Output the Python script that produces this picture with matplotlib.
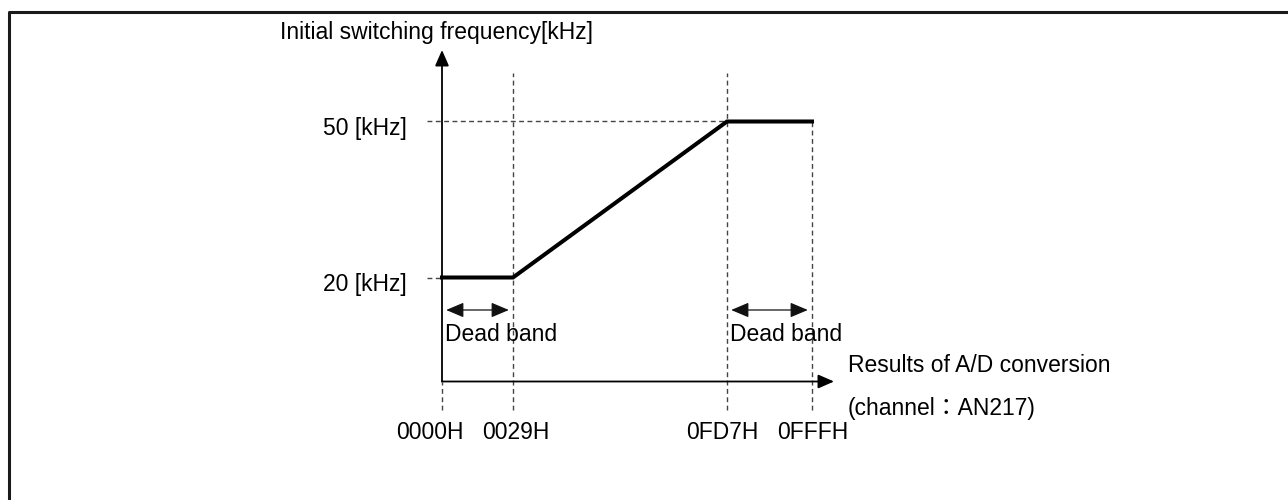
import numpy as np
import matplotlib
matplotlib.use('Agg')
import matplotlib.pyplot as plt
from matplotlib.lines import Line2D

plt.rcParams['font.family'] = ['Liberation Sans', 'Noto Sans CJK JP', 'DejaVu Sans']

# data of the diagram
AD_TICKS = [0x0000, 0x0029, 0x0FD7, 0x0FFF]          # A/D conversion result break points
AD_LABELS = ["0000H", "0029H", "0FD7H", "0FFFH"]
FREQ_KHZ = [20, 20, 50, 50]                            # initial switching frequency [kHz]
FREQ_LEVELS = [50, 20]
FREQ_LABELS = ["50 [kHz]", "20 [kHz]"]
DEAD_BANDS = [(0x0000, 0x0029), (0x0FD7, 0x0FFF)]

Y_TITLE = "Initial switching frequency[kHz]"
X_TITLE = "Results of A/D conversion"
X_SUB = "(channel\uff1aAN217)"

# layout (schematic, not to scale)
W, H = 1288, 500
X_PIX = [442, 513, 727, 812]      # where the break points sit in the picture
Y0_PIX = 381.5                    # pixel row of 0 kHz
PX_PER_KHZ = (277 - 121) / 30.0


def ext_interp(v, xp, fp):
    v = np.asarray(v, dtype=float)
    lo = (fp[1] - fp[0]) / (xp[1] - xp[0])
    hi = (fp[-1] - fp[-2]) / (xp[-1] - xp[-2])
    return np.where(v < xp[0], fp[0] + (v - xp[0]) * lo,
                    np.where(v > xp[-1], fp[-1] + (v - xp[-1]) * hi,
                             np.interp(v, xp, fp)))


def fwd(c):
    return ext_interp(c, AD_TICKS, X_PIX)


def inv(p):
    return ext_interp(p, X_PIX, AD_TICKS)


def khz(py):  # pixel row -> kHz
    return (Y0_PIX - py) / PX_PER_KHZ


def main():
    fig = plt.figure(figsize=(W / 100, H / 100), dpi=100)
    ax = fig.add_axes([0, 0, 1, 1])
    ax.set_xscale('function', functions=(fwd, inv))
    ax.set_xlim(float(inv(0)), float(inv(W)))
    ax.set_ylim(khz(H), khz(0))
    ax.axis('off')

    # frame around the figure (cut at right and bottom)
    fig.add_artist(Line2D([8.5 / W, 8.5 / W, 1], [0, 1 - 11.5 / H, 1 - 11.5 / H],
                          transform=fig.transFigure, color='#1a1a1a', lw=2.2))

    dash = dict(color='#444444', lw=1.0, linestyle=(0, (3.5, 2.5)))
    low = khz(410)
    top = khz(73)
    ax.plot([AD_TICKS[0]] * 2, [low, 0], **dash)
    ax.plot([AD_TICKS[1]] * 2, [low, top], **dash)
    ax.plot([AD_TICKS[2]] * 2, [low, top], **dash)
    ax.plot([AD_TICKS[3]] * 2, [low, FREQ_KHZ[-1]], **dash)
    left = float(inv(427))
    ax.plot([left, AD_TICKS[2]], [FREQ_LEVELS[0]] * 2, **dash)
    ax.plot([left, AD_TICKS[0]], [FREQ_LEVELS[1]] * 2, **dash)

    # axes with arrows
    head = 'simple,head_length=0.8,head_width=0.55,tail_width=0.001'
    ax.annotate('', xy=(0, khz(50)), xytext=(0, 0),
                arrowprops=dict(arrowstyle='-|>,head_length=0.8,head_width=0.35',
                                mutation_scale=12, lw=1.3, color='black',
                                shrinkA=0, shrinkB=0))
    ax.annotate('', xy=(float(inv(834)), 0), xytext=(0, 0),
                arrowprops=dict(arrowstyle='-|>,head_length=0.8,head_width=0.35',
                                mutation_scale=12, lw=1.3, color='black',
                                shrinkA=0, shrinkB=0))

    # frequency characteristic
    ax.plot(AD_TICKS, FREQ_KHZ, color='black', lw=2.9, solid_joinstyle='miter')

    # dead bands
    for lo, hi in DEAD_BANDS:
        ax.annotate('', xy=(hi, khz(310)), xytext=(lo, khz(310)),
                    arrowprops=dict(arrowstyle='<|-|>,head_length=0.9,head_width=0.38',
                                    mutation_scale=12, lw=0.9, color='#111111',
                                    shrinkA=3, shrinkB=3))
        ax.annotate("Dead band", xy=(lo, 0), xytext=(2.5, 33.5), textcoords='offset points',
                    ha='left', va='center', fontsize=16.5)

    # tick labels
    dx = [-12, 3, -5, 1]
    for c, lbl, d in zip(AD_TICKS, AD_LABELS, dx):
        ax.annotate(lbl, xy=(c, 0), xytext=(d * 0.72, -37), textcoords='offset points',
                    ha='center', va='center', fontsize=16.5)
    for f, lbl in zip(FREQ_LEVELS, FREQ_LABELS):
        ax.annotate(lbl, xy=(0, f), xytext=(-25.5, -5), textcoords='offset points',
                    ha='right', va='center', fontsize=16.5)

    # axis titles
    ax.text(float(inv(437)), khz(33), Y_TITLE, ha='center', va='center', fontsize=16.5)
    ax.text(float(inv(848)), khz(365), X_TITLE, ha='left', va='center', fontsize=16.5)
    ax.text(float(inv(848)), khz(408), X_SUB, ha='left', va='center', fontsize=16.5)

    fig.savefig('out.png', dpi=100)


if __name__ == "__main__":
    main()
